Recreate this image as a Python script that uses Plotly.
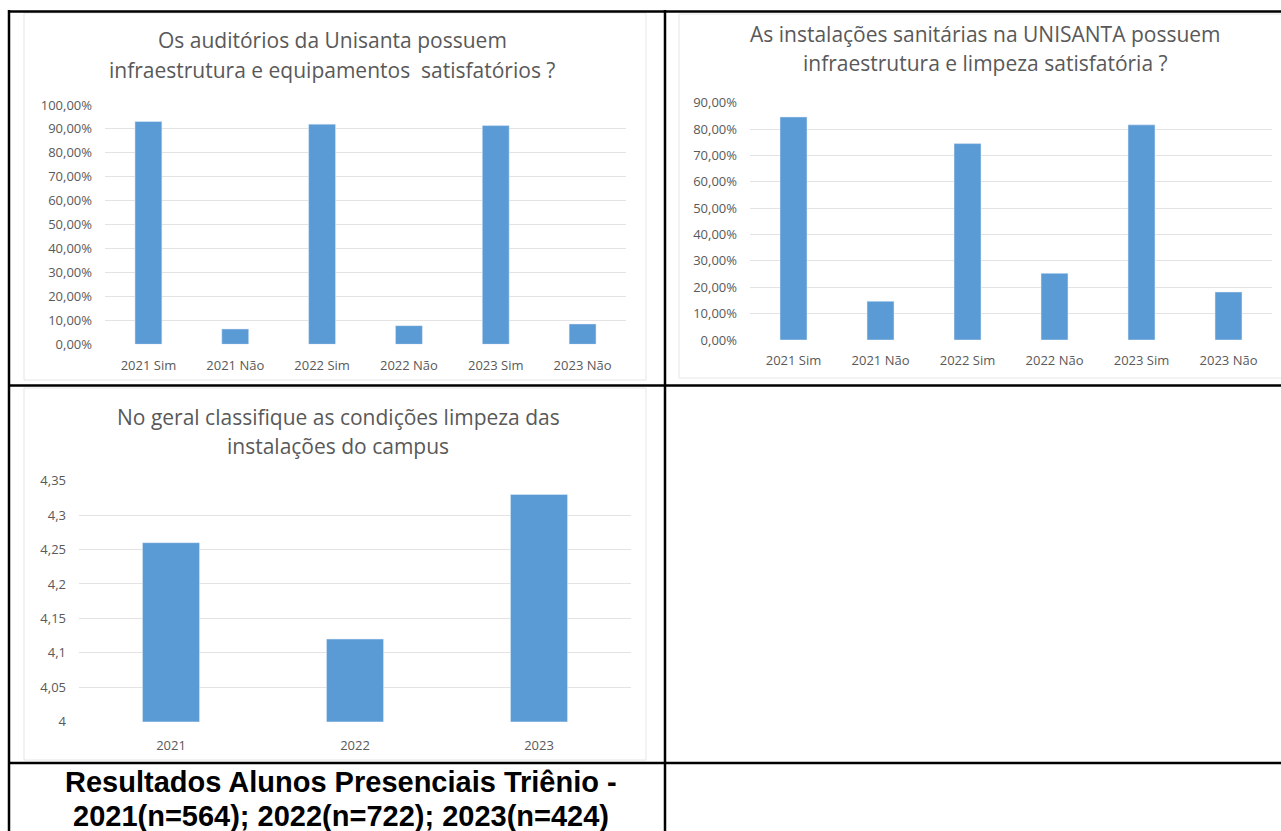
import plotly.graph_objects as go

# ---------------- data ----------------
cats = ["2021 Sim", "2021 Não", "2022 Sim", "2022 Não", "2023 Sim", "2023 Não"]
auditorios_vals = [0.931, 0.064, 0.920, 0.078, 0.914, 0.085]
sanitarias_vals = [0.846, 0.147, 0.745, 0.253, 0.816, 0.182]
years = ["2021", "2022", "2023"]
limpeza_vals = [4.26, 4.12, 4.33]

pct_ticks_1 = [0.0, 0.1, 0.2, 0.3, 0.4, 0.5, 0.6, 0.7, 0.8, 0.9, 1.0]
pct_labels_1 = ["0,00%", "10,00%", "20,00%", "30,00%", "40,00%", "50,00%",
                "60,00%", "70,00%", "80,00%", "90,00%", "100,00%"]
pct_ticks_2 = [0.0, 0.1, 0.2, 0.3, 0.4, 0.5, 0.6, 0.7, 0.8, 0.9]
pct_labels_2 = ["0,00%", "10,00%", "20,00%", "30,00%", "40,00%", "50,00%",
                "60,00%", "70,00%", "80,00%", "90,00%"]
score_ticks = [4.0, 4.05, 4.1, 4.15, 4.2, 4.25, 4.3, 4.35]
score_labels = ["4", "4,05", "4,1", "4,15", "4,2", "4,25", "4,3", "4,35"]

title1 = ["Os auditórios da Unisanta possuem",
          "infraestrutura e equipamentos  satisfatórios ?"]
title2 = ["As instalações sanitárias na UNISANTA possuem",
          "infraestrutura e limpeza satisfatória ?"]
title3 = ["No geral classifique as condições limpeza das",
          "instalações do campus"]
caption = ["Resultados Alunos Presenciais Triênio -",
           "2021(n=564); 2022(n=722); 2023(n=424)"]

# ---------------- layout helpers ----------------
W, H = 1281, 831
def px(x):
    return x / W
def py(y):
    return 1 - y / H

BAR = "#5B9BD5"
GRID = "#E3E3E3"
TXT = "#595959"
FONT = "Open Sans"

fig = go.Figure()
fig.add_trace(go.Bar(x=cats, y=auditorios_vals, marker_color=BAR, xaxis="x", yaxis="y"))
fig.add_trace(go.Bar(x=cats, y=sanitarias_vals, marker_color=BAR, xaxis="x2", yaxis="y2"))
fig.add_trace(go.Bar(x=years, y=limpeza_vals, marker_color=BAR, xaxis="x3", yaxis="y3"))

def xax(domain, anchor, standoff):
    return dict(domain=domain, anchor=anchor, showgrid=False, zeroline=False,
                showline=False, ticks="", tickfont=dict(family=FONT, size=13, color=TXT),
                ticklabelstandoff=standoff, automargin=False, fixedrange=True)

def yax(domain, anchor, rng, tv, tt):
    return dict(domain=domain, anchor=anchor, range=rng, tickvals=tv, ticktext=tt,
                showgrid=True, gridcolor=GRID, gridwidth=1, zeroline=False,
                showline=False, ticks="", tickfont=dict(family=FONT, size=13, color=TXT),
                ticklabelstandoff=12, automargin=False, fixedrange=True)

fig.update_layout(
    width=W, height=H, margin=dict(l=0, r=0, t=0, b=0, pad=0, autoexpand=False),
    paper_bgcolor="white", plot_bgcolor="white", showlegend=False,
    bargap=0.69,
    xaxis=xax([px(105), px(626)], "y", 12),
    yaxis=yax([py(344.3), py(105)], "x", [0, 1.0], pct_ticks_1, pct_labels_1),
    xaxis2=xax([px(750), px(1272)], "y2", 11),
    yaxis2=yax([py(340), py(102.7)], "x2", [0, 0.9], pct_ticks_2, pct_labels_2),
    xaxis3=xax([px(79), px(631)], "y3", 14),
    yaxis3=yax([py(721.7), py(480.7)], "x3", [4.0, 4.35], score_ticks, score_labels),
)

# chart titles
ann = []
def add_title(lines, cx, ys):
    for line, cy in zip(lines, ys):
        ann.append(dict(text=line, x=px(cx), y=py(cy), xref="paper", yref="paper",
                        xanchor="center", yanchor="middle", showarrow=False,
                        font=dict(family=FONT, size=21, color=TXT)))
add_title(title1, 332, [40, 70])
add_title(title2, 985, [34, 63])
add_title(title3, 338, [417, 446])
for line, cy in zip(caption, [782, 816]):
    ann.append(dict(text="<b>" + line + "</b>", x=px(341), y=py(cy), xref="paper", yref="paper",
                    xanchor="center", yanchor="middle", showarrow=False,
                    font=dict(family="Liberation Sans, Arial", size=29, color="black")))
fig.update_layout(annotations=ann)

# chart frames and table borders
shapes = []
for (x0, y0, x1, y1) in [(24, 13, 646, 380), (679, 14, 1290, 378), (24, 388, 646, 760)]:
    shapes.append(dict(type="rect", xref="paper", yref="paper",
                       x0=px(x0), x1=px(x1), y0=py(y0), y1=py(y1),
                       line=dict(color="#E6E6E6", width=1), layer="below"))
for (x0, y0, x1, y1) in [(8, 11.5, 1290, 11.5), (8, 385.5, 1290, 385.5), (8, 763, 1290, 763),
                         (9, 10, 9, 840), (665, 10, 665, 840)]:
    shapes.append(dict(type="line", xref="paper", yref="paper",
                       x0=px(x0), x1=px(x1), y0=py(y0), y1=py(y1),
                       line=dict(color="black", width=2.5)))
fig.update_layout(shapes=shapes)

fig.write_html(
    "out.html",
    config={"displayModeBar": False},
    post_script=("document.documentElement.style.margin='0';"
                 "document.body.style.margin='0';document.body.style.padding='0';"
                 "document.body.style.overflow='hidden';"
                 "var d=document.getElementById('{plot_id}');"
                 "d.style.position='absolute';d.style.left='0px';d.style.top='0px';"),
)
